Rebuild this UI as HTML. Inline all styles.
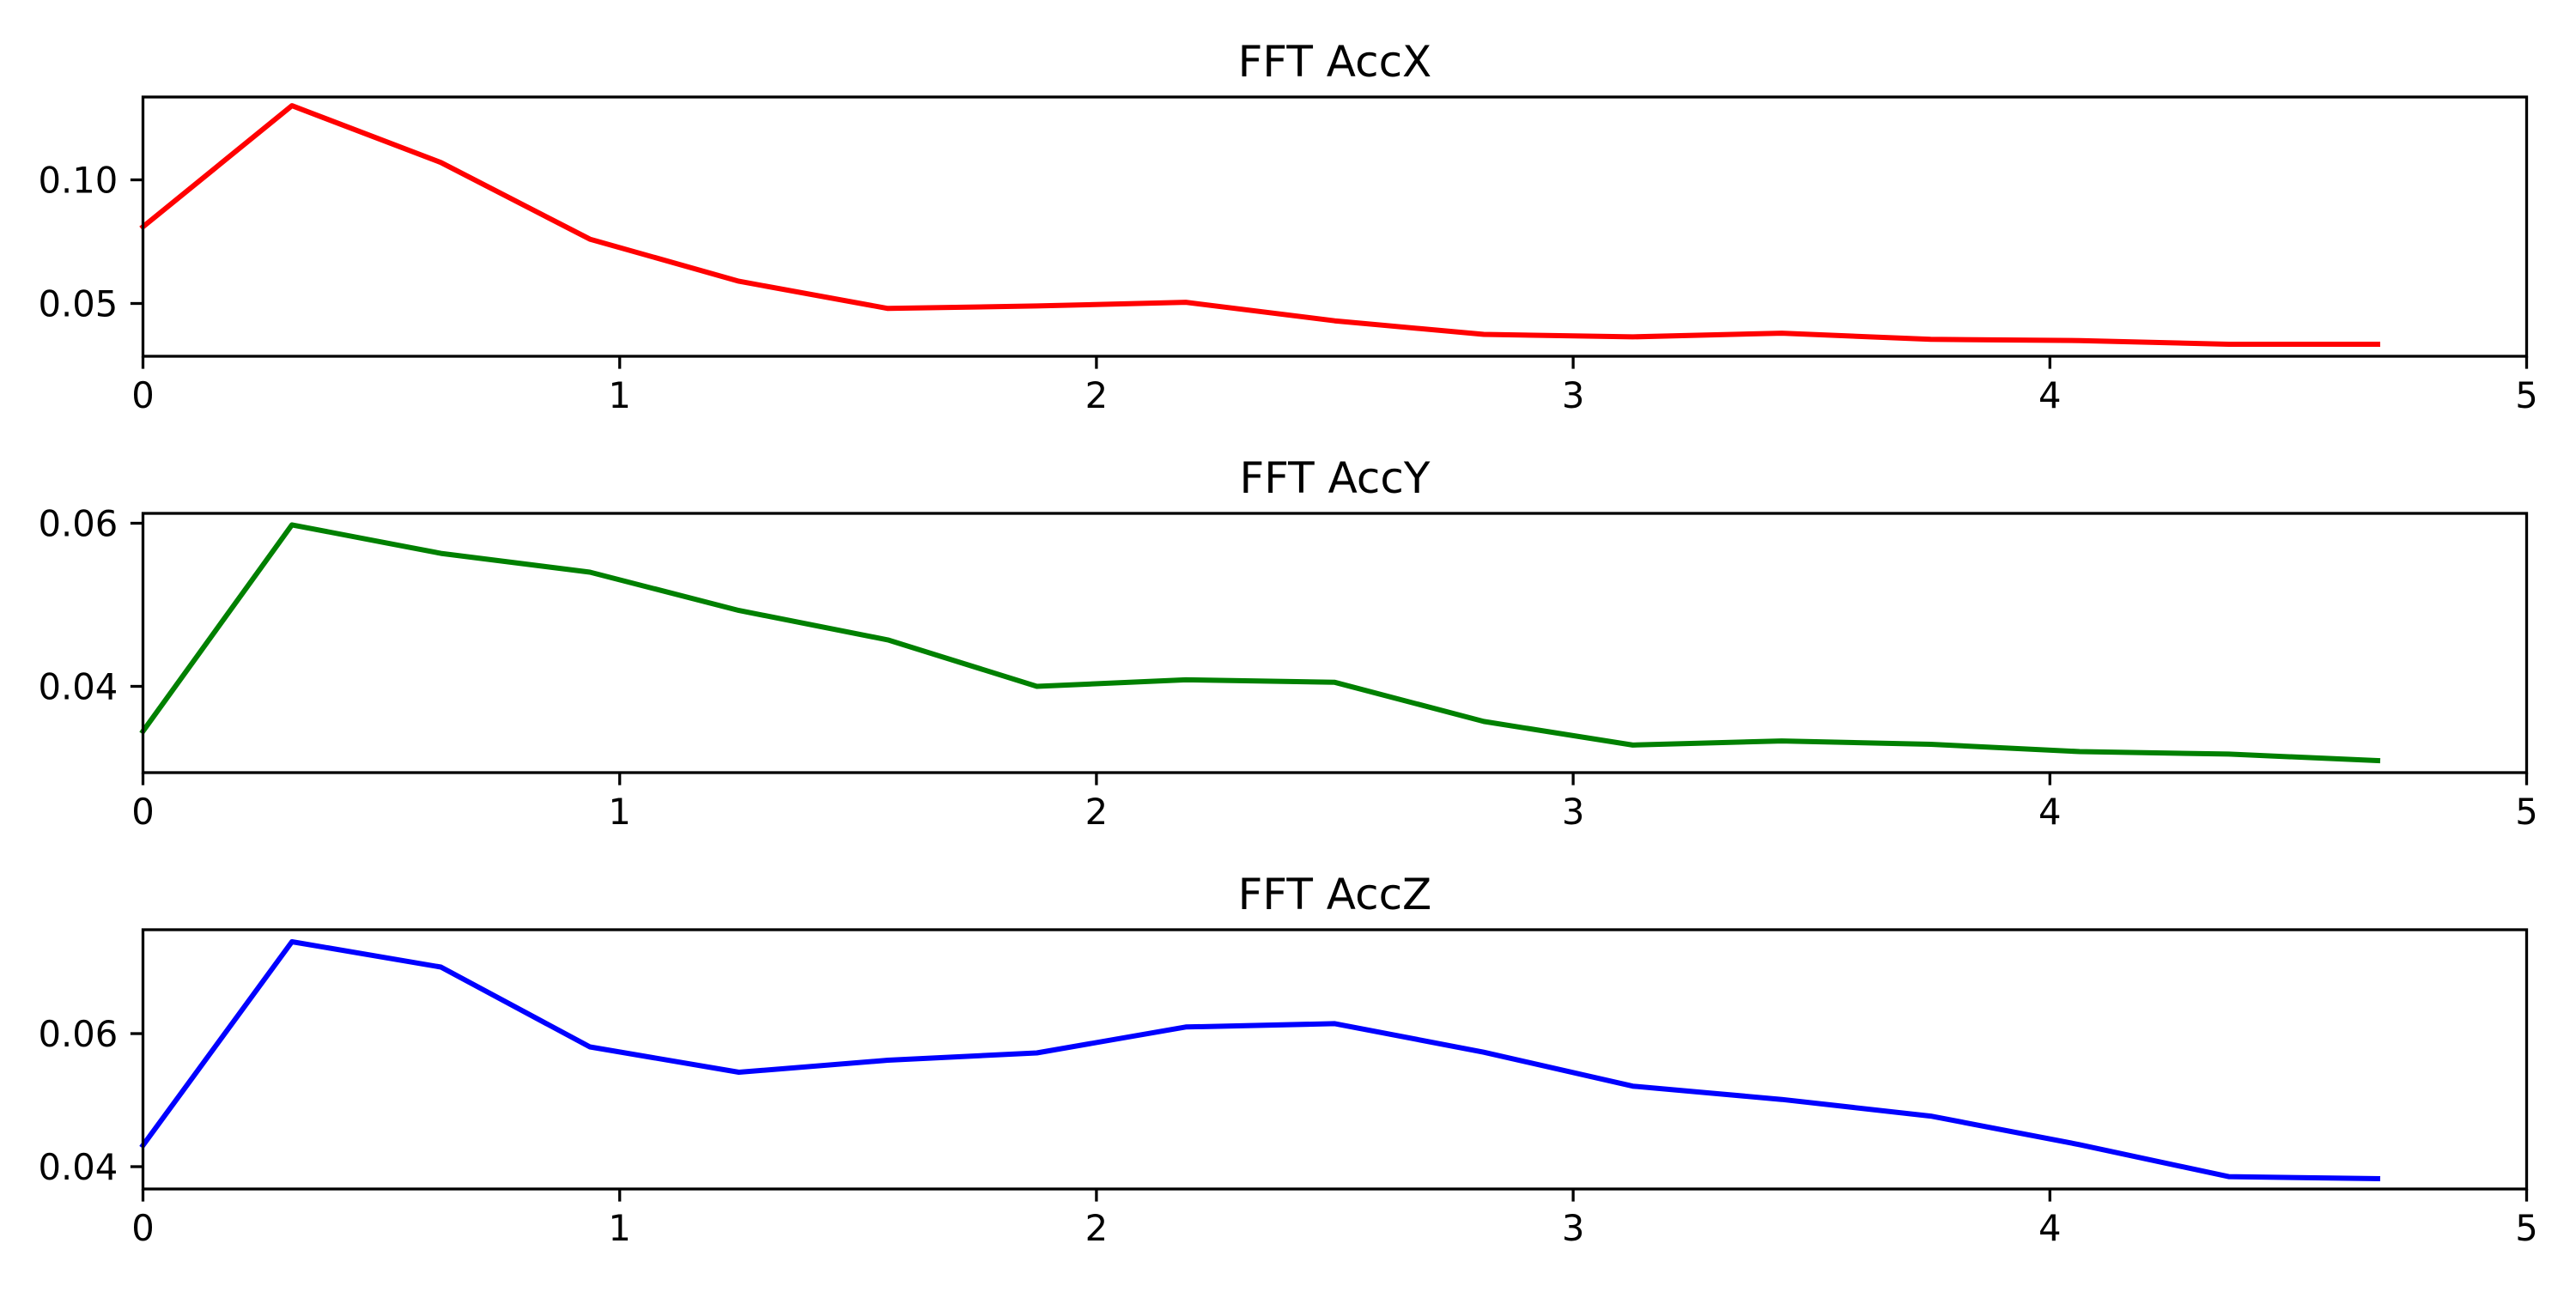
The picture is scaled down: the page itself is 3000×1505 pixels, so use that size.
<!DOCTYPE html>
<html><head><meta charset="utf-8"><style>
html,body{margin:0;padding:0;background:#fff;}
svg text{font-family:"DejaVu Sans","Liberation Sans",sans-serif;fill:#000;}
</style></head><body>
<svg id="chart" width="3000" height="1500" viewBox="0 0 3000 1500" xmlns="http://www.w3.org/2000/svg"></svg>
<script>
const freqs = [0,0.3125,0.625,0.9375,1.25,1.5625,1.875,2.1875,2.5,2.8125,3.125,3.4375,3.75,4.0625,4.375,4.6875];
const accX = [0.081,0.130,0.107,0.076,0.059,0.048,0.049,0.0505,0.043,0.0375,0.0365,0.038,0.0355,0.035,0.0335,0.0335];
const accY = [0.0345,0.0598,0.0563,0.054,0.0493,0.0457,0.0400,0.0408,0.0405,0.0357,0.0328,0.0333,0.0329,0.0320,0.0317,0.0309];
const accZ = [0.0432,0.0738,0.0700,0.0580,0.0542,0.0560,0.0571,0.0610,0.0615,0.0572,0.0521,0.0501,0.0476,0.0433,0.0385,0.0382];
const xTicks = [0,1,2,3,4,5];
const xTickLabels = ["0","1","2","3","4","5"];
const yTicksX = [0.05,0.10];
const yTickLabelsX = ["0.05","0.10"];
const yTicksY = [0.04,0.06];
const yTickLabelsY = ["0.04","0.06"];
const yTicksZ = [0.04,0.06];
const yTickLabelsZ = ["0.04","0.06"];

const NS="http://www.w3.org/2000/svg";
const svg=document.getElementById('chart');
function mk(tag,attrs,parent){const e=document.createElementNS(NS,tag);for(const k in attrs)e.setAttribute(k,attrs[k]);(parent||svg).appendChild(e);return e;}

const L=166.5,R=2942.5,H=302,TL=14.6;
const panels=[
 {title:"FFT AccX",top:113,vals:accX,color:"#ff0000",yt:yTicksX,yl:yTickLabelsX,ref:[0.05,353.5-113,0.10,209.5-113],name:"accx"},
 {title:"FFT AccY",top:598,vals:accY,color:"#008000",yt:yTicksY,yl:yTickLabelsY,ref:[0.04,799.5-598,0.06,609.5-598],name:"accy"},
 {title:"FFT AccZ",top:1083,vals:accZ,color:"#0000ff",yt:yTicksZ,yl:yTickLabelsZ,ref:[0.04,1359-1083,0.06,1204-1083],name:"accz"}
];
const xScale=v=>L+(v-0)/(5-0)*(R-L);
panels.forEach(p=>{
  const g=mk('g',{});
  
  
  const [v0,y0,v1,y1]=p.ref;
  const yScale=v=>p.top+y0+(v-v0)*(y1-y0)/(v1-v0);
  const pts=freqs.map((f,i)=>xScale(f).toFixed(1)+','+yScale(p.vals[i]).toFixed(1)).join(' ');
  const line=mk('polyline',{points:pts,fill:'none',stroke:p.color,'stroke-width':6,'stroke-linejoin':'round','stroke-linecap':'square'},g);
  
  
  const frame=mk('rect',{x:L,y:p.top,width:R-L,height:H,fill:'none',stroke:'#000','stroke-width':3.3},g);
  
  
  const t=mk('text',{x:(L+R)/2,y:p.top-24,'text-anchor':'middle','font-size':50},g);
  t.textContent=p.title;
  
  
  xTicks.forEach((v,i)=>{
    const x=xScale(v);
    const tk=mk('line',{x1:x,x2:x,y1:p.top+H,y2:p.top+H+TL,stroke:'#000','stroke-width':3.3},g);
    
    
    const lb=mk('text',{x:x,y:p.top+H+60,'text-anchor':'middle','font-size':41.7},g);
    lb.textContent=xTickLabels[i];
    
    
  });
  p.yt.forEach((v,i)=>{
    const y=yScale(v);
    const tk=mk('line',{x1:L-TL,x2:L,y1:y,y2:y,stroke:'#000','stroke-width':3.3},g);
    
    
    const lb=mk('text',{x:L-2*TL,y:y+15,'text-anchor':'end','font-size':41.7},g);
    lb.textContent=p.yl[i];
    
    
  });
});
</script>
</body></html>
